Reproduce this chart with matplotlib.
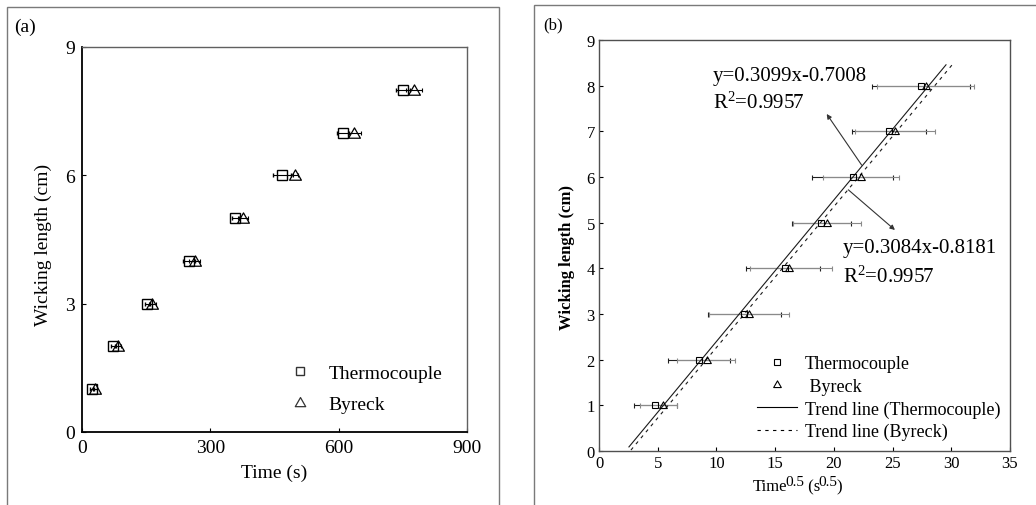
import numpy as np
import matplotlib
matplotlib.use("Agg")
import matplotlib.pyplot as plt
from matplotlib.patches import Rectangle
from matplotlib.path import Path
from matplotlib.lines import Line2D

plt.rcParams['font.family'] = ['Liberation Serif', 'DejaVu Serif']
plt.rcParams['mathtext.fontset'] = 'custom'
plt.rcParams['mathtext.rm'] = 'Liberation Serif'
plt.rcParams['mathtext.it'] = 'Liberation Serif:italic'
plt.rcParams['mathtext.bf'] = 'Liberation Serif:bold'

# ---- data ----
wicking_length = [1, 2, 3, 4, 5, 6, 7, 8]                       # cm
time_thermo = [23, 72, 153, 250, 358, 468, 611, 750]            # s
time_byreck = [30, 85, 164, 263, 377, 499, 637, 776]            # s
err_thermo = [4, 5, 6, 14, 8, 21, 14, 16]                       # s
err_byreck = [5, 6, 8, 14, 12, 6, 15, 18]                       # s

# error range on the square-root time axis (s^0.5)
sqrt_lo_thermo = [2.98, 5.88, 9.31, 12.49, 16.41, 18.11, 21.57, 23.22]
sqrt_hi_thermo = [6.60, 11.15, 15.50, 18.82, 21.46, 25.06, 27.85, 31.60]
sqrt_lo_byreck = [3.50, 6.64, 9.40, 12.86, 16.51, 19.05, 21.80, 23.65]
sqrt_hi_byreck = [6.65, 11.58, 16.20, 19.82, 22.29, 25.55, 28.60, 31.93]

# linear fits  y = slope * sqrt(t) + intercept, with R^2
fit_thermo = (0.3099, -0.7008, 0.9957)
fit_byreck = (0.3084, -0.8181, 0.9957)
fit_range_thermo = (2.55, 29.55)
fit_range_byreck = (2.72, 30.05)

xticks_a = [0, 300, 600, 900]
yticks_a = [0, 3, 6, 9]
xticks_b = [0, 5, 10, 15, 20, 25, 30, 35]
yticks_b = list(range(10))

W, H = 1036, 506
fig = plt.figure(figsize=(W / 100, H / 100), dpi=100)

# panel frames
fig.add_artist(Rectangle((7 / W, -0.05), (499 - 7) / W, (H - 8) / H + 0.05,
                         transform=fig.transFigure, fill=False,
                         ec='#7a7a7a', lw=1.0))
fig.add_artist(Rectangle((534 / W, -0.05), 0.6, (H - 6) / H + 0.05,
                         transform=fig.transFigure, fill=False,
                         ec='#7a7a7a', lw=1.0))

tri = Path([(-1.0, -0.8), (1.0, -0.8), (0.0, 0.95), (-1.0, -0.8)],
           [Path.MOVETO, Path.LINETO, Path.LINETO, Path.CLOSEPOLY])

# ---------------- panel (a) ----------------
ax1 = fig.add_axes([82 / W, (H - 433) / H, 385 / W, 385 / H])
ax1.errorbar(time_thermo, wicking_length, xerr=err_thermo, fmt='s',
             ms=7.2, mfc='none', mec='black', mew=1.0, ecolor='black',
             elinewidth=0.8, capsize=1.5, capthick=0.8)
ax1.errorbar(time_byreck, wicking_length, xerr=err_byreck, fmt='none',
             ecolor='black', elinewidth=0.8, capsize=1.5, capthick=0.8)
ax1.plot(time_byreck, wicking_length, ls='none', marker=tri, ms=8.5,
         mfc='none', mec='black', mew=0.9)
ax1.set_xlim(0, 900)
ax1.set_ylim(0, 9)
ax1.set_xticks(xticks_a)
ax1.set_yticks(yticks_a)
ax1.tick_params(direction='in', length=3, width=0.8, labelsize=14, pad=5)
for s in ('left', 'bottom'):
    ax1.spines[s].set_color('black')
    ax1.spines[s].set_linewidth(1.3)
for s in ('top', 'right'):
    ax1.spines[s].set_color('#606060')
    ax1.spines[s].set_linewidth(1.0)
ax1.set_xlabel('Time (s)', fontsize=14)
ax1.set_ylabel('Wicking length (cm)', fontsize=14)
ax1.xaxis.label.set_va('center')
ax1.yaxis.label.set_va('center')
ax1.xaxis.set_label_coords(0.5, (433 - 473) / 385)
ax1.yaxis.set_label_coords((43 - 82) / 385, (433 - 244.7) / 385)

h_sq = Line2D([], [], ls='none', marker='s', ms=5.5, mfc='none', mec='#333333', mew=1.0)
h_tr = Line2D([], [], ls='none', marker=tri, ms=7.5, mfc='none', mec='#333333', mew=0.9)
ax1.legend([h_sq, h_tr], ['Thermocouple', 'Byreck'], loc='upper left',
           bbox_to_anchor=((290 - 82) / 385, (433 - 365) / 385),
           frameon=False, fontsize=14, handlelength=1.0, handletextpad=1.0,
           labelspacing=0.72, borderpad=0, borderaxespad=0)

fig.text(14 / W, (H - 27) / H, '(a)', fontsize=14, va='center', ha='left')

# ---------------- panel (b) ----------------
ax2 = fig.add_axes([599 / W, (H - 452) / H, 411 / W, 411 / H])
x_thermo = np.sqrt(time_thermo)
x_byreck = np.sqrt(time_byreck)
xerr_t = [x_thermo - np.array(sqrt_lo_thermo), np.array(sqrt_hi_thermo) - x_thermo]
xerr_b = [x_byreck - np.array(sqrt_lo_byreck), np.array(sqrt_hi_byreck) - x_byreck]

ax2.errorbar(x_thermo, wicking_length, xerr=xerr_t, fmt='none',
             ecolor='#202020', elinewidth=0.8, capsize=1.8, capthick=0.8)
ax2.errorbar(x_byreck, wicking_length, xerr=xerr_b, fmt='none',
             ecolor='#8a8a8a', elinewidth=0.8, capsize=1.8, capthick=0.8)

for (m, b, r2), (x0, x1), ls in ((fit_thermo, fit_range_thermo, '-'),
                                 (fit_byreck, fit_range_byreck, (0, (3, 4)))):
    xx = np.array([x0, x1])
    ax2.plot(xx, m * xx + b, color='#1a1a1a', lw=0.8, ls=ls)

ax2.plot(x_thermo, wicking_length, ls='none', marker='s', ms=4.0,
         mfc='none', mec='black', mew=0.8)
ax2.plot(x_byreck, wicking_length, ls='none', marker=tri, ms=5.5,
         mfc='none', mec='black', mew=0.8)

ax2.set_xlim(0, 35)
ax2.set_ylim(0, 9)
ax2.set_xticks(xticks_b)
ax2.set_yticks(yticks_b)
ax2.tick_params(direction='in', length=3, width=0.8, labelsize=12, pad=3)
for s in ax2.spines.values():
    s.set_color('#505050')
    s.set_linewidth(1.0)
ax2.set_ylabel('Wicking length (cm)', fontsize=12, fontweight='bold')
ax2.yaxis.label.set_va('center')
ax2.yaxis.set_label_coords((567 - 599) / 411, (452 - 257.5) / 411)

# x label with full-height raised exponents: Time^0.5 (s^0.5)
t_a = ax2.text((753 - 599) / 411, (452 - 495) / 411, 'Time', fontsize=12,
               ha='left', va='bottom', transform=ax2.transAxes)
t_b = ax2.annotate('0.5', xy=(1, 0), xycoords=t_a, xytext=(-1.2, 4.5),
                   textcoords='offset points', fontsize=11, ha='left', va='bottom')
t_c = ax2.annotate(' (s', xy=(1, 0), xycoords=(t_b, t_a), xytext=(-0.8, 0),
                   textcoords='offset points', fontsize=12, ha='left', va='bottom')
t_d = ax2.annotate('0.5', xy=(1, 0), xycoords=(t_c, t_a), xytext=(-1.2, 4.5),
                   textcoords='offset points', fontsize=11, ha='left', va='bottom')
ax2.annotate(')', xy=(1, 0), xycoords=(t_d, t_a), xytext=(-0.6, 0),
             textcoords='offset points', fontsize=12, ha='left', va='bottom')

# fit equations with arrows
ax2.text(9.71, 8.23, f'y={fit_thermo[0]:.4f}x-{-fit_thermo[1]:.4f}', fontsize=15,
         ha='left', va='center')
ax2.text(9.71, 7.64, f'R$^2$={fit_thermo[2]:.4f}', fontsize=15, ha='left', va='center')
ax2.text(20.78, 4.45, f'y={fit_byreck[0]:.4f}x-{-fit_byreck[1]:.4f}', fontsize=15,
         ha='left', va='center')
ax2.text(20.78, 3.83, f'R$^2$={fit_byreck[2]:.4f}', fontsize=15, ha='left', va='center')
arrow = dict(arrowstyle='-|>', lw=0.8, color='#333333', mutation_scale=7,
             shrinkA=0, shrinkB=0)
ax2.annotate('', xy=(19.39, 7.38), xytext=(22.37, 6.26), arrowprops=arrow)
ax2.annotate('', xy=(25.2, 4.84), xytext=(21.23, 5.72), arrowprops=arrow)

hb_sq = Line2D([], [], ls='none', marker='s', ms=4.0, mfc='none', mec='black', mew=0.8)
hb_tr = Line2D([], [], ls='none', marker=tri, ms=5.5, mfc='none', mec='black', mew=0.8)
hb_l1 = Line2D([], [], color='black', lw=0.8, ls='-')
hb_l2 = Line2D([], [], color='black', lw=0.8, ls=(0, (3, 4)))
ax2.legend([hb_sq, hb_tr, hb_l1, hb_l2],
           ['Thermocouple', ' Byreck', 'Trend line (Thermocouple)', 'Trend line (Byreck)'],
           loc='upper left', bbox_to_anchor=((757 - 599) / 411, (452 - 356) / 411),
           frameon=False, fontsize=13, handlelength=2.2, handletextpad=0.45,
           labelspacing=0.31, borderpad=0, borderaxespad=0)

fig.text(543 / W, (H - 25) / H, '(b)', fontsize=12, va='center', ha='left')

fig.savefig('out.png', dpi=100)
